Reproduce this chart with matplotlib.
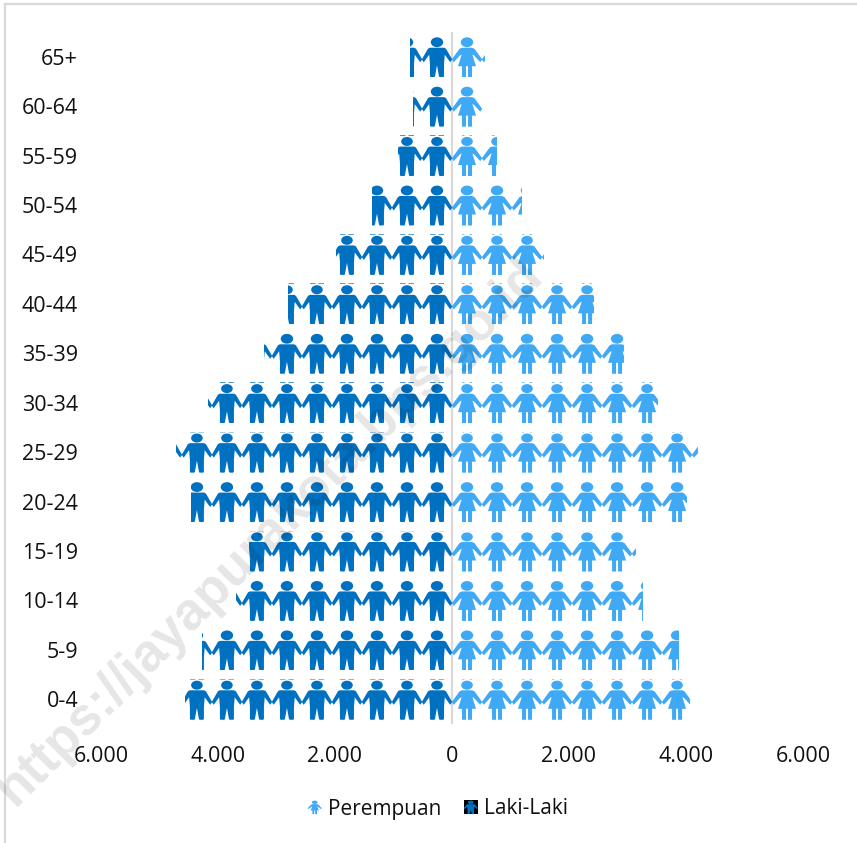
import numpy as np
import matplotlib
matplotlib.use("Agg")
import matplotlib.pyplot as plt
from matplotlib.path import Path
from matplotlib.patches import PathPatch, Rectangle, Patch
from matplotlib.lines import Line2D
from matplotlib.transforms import Affine2D
from matplotlib.legend_handler import HandlerBase

# ---------- data ----------
age_groups = ["0-4", "5-9", "10-14", "15-19", "20-24", "25-29", "30-34",
              "35-39", "40-44", "45-49", "50-54", "55-59", "60-64", "65+"]
laki_laki = [4564, 4274, 3692, 3470, 4462, 4718, 4171,
             3214, 2803, 1983, 1368, 923, 667, 718]
perempuan = [4068, 3880, 3265, 3145, 4017, 4205, 3521,
             2940, 2427, 1573, 1197, 769, 513, 564]
x_ticks = [-6000, -4000, -2000, 0, 2000, 4000, 6000]
x_tick_labels = ["6.000", "4.000", "2.000", "0", "2.000", "4.000", "6.000"]
units_per_icon = 513
# rows whose pictogram shows the small resampling dashes above the head
dashed_rows = ["0-4", "15-19", "25-29", "30-34", "40-44", "45-49", "55-59"]

COL_M = "#0070C0"
COL_F = "#3FA9F5"
FONT = "Open Sans"
W, H = 857, 843
TILE_W, TILE_H = 30.0, 41.0


# ---------- pictograms (designed on a 30 x 41 tile, y downwards) ----------
def head(cy=6.0, rx=6.2, ry=4.9):
    return Path.unit_circle().transformed(Affine2D().scale(rx, ry).translate(0, cy))


def poly(points):
    pts = list(points) + [points[0]]
    codes = [Path.MOVETO] + [Path.LINETO] * (len(points) - 1) + [Path.CLOSEPOLY]
    return Path(pts, codes)


def dash(x0, x1):
    return poly([(x0, 0.0), (x1, 0.0), (x1, 0.7), (x0, 0.7)])


def male_icon(dashes=False):
    right = [(0, 11.5), (7.2, 11.5), (9.0, 12.5), (15.2, 23.2), (13.2, 26), (7.8, 18.5),
             (7.0, 28), (7.0, 40), (6.4, 41), (2.6, 41), (2.0, 40), (0, 29)]
    left = [(-x, y) for x, y in right[1:-1][::-1]]
    parts = [poly(right + left)]
    if dashes:
        parts += [head(6.4, 5.8, 4.5), dash(-7, -1.5), dash(1.5, 7)]
    else:
        parts += [head()]
    return Path.make_compound_path(*parts)


def female_icon(dashes=False):
    right = [(0, 11.5), (5.0, 11.5), (7.4, 12.5), (15.2, 23.2), (13.2, 26), (6.8, 19), (5.4, 18.5),
             (9.0, 30), (5.0, 30), (5.0, 41), (1.0, 41), (1.0, 30), (0, 30)]
    left = [(-x, y) for x, y in right[1:-1][::-1]]
    parts = [poly(right + left)]
    if dashes:
        parts += [head(6.4, 5.8, 4.5), dash(-5, -2.5), dash(2.5, 5)]
    else:
        parts += [head()]
    return Path.make_compound_path(*parts)


# ---------- figure ----------
plt.rcParams["font.family"] = [FONT, "DejaVu Sans"]
fig = plt.figure(figsize=(W / 100, H / 100), dpi=100)
fig.patch.set_facecolor("white")
ax = fig.add_axes([101 / W, 1 - 724 / H, 702 / W, 692 / H])
ax.set_xlim(-6000, 6000)
ax.set_ylim(-0.5, len(age_groups) - 0.5)
for s in ax.spines.values():
    s.set_visible(False)
ax.axvline(0, color="#D9D9D9", lw=1.6, zorder=1)

row_px = 692 / 14
for i, label in enumerate(age_groups):
    has_dash = label in dashed_rows
    for values, sign, color, icon in ((laki_laki, -1, COL_M, male_icon(has_dash)),
                                      (perempuan, 1, COL_F, female_icon(has_dash))):
        v = values[i]
        left = -v if sign < 0 else 0
        bar = ax.barh(i, v, left=left, height=TILE_H / row_px, fill=False, lw=0)[0]
        for k in range(int(np.ceil(v / units_per_icon))):
            tr = (Affine2D()
                  .translate(0, -TILE_H / 2)
                  .scale(units_per_icon / TILE_W, -1 / row_px)
                  .translate(sign * (k + 0.5) * units_per_icon, i))
            p = PathPatch(icon.transformed(tr), facecolor=color, edgecolor="none",
                          lw=0, zorder=2)
            ax.add_patch(p)
            p.set_clip_path(bar)

ax.set_xticks(x_ticks, x_tick_labels)
ax.set_yticks(range(len(age_groups)), age_groups)
ax.tick_params(axis="both", length=0, labelsize=15.5, colors="#111111")
ax.tick_params(axis="x", pad=15.5)
ax.tick_params(axis="y", pad=16.5)


# ---------- legend ----------
class IconHandler(HandlerBase):
    def __init__(self, icon, color, boxed=False):
        super().__init__()
        self.icon, self.color, self.boxed = icon, color, boxed

    def create_artists(self, legend, orig, xd, yd, width, height, fontsize, trans):
        side = 10.0
        x0 = width - side
        y0 = (height - side) / 2 - yd
        arts = []
        if self.boxed:
            arts.append(Rectangle((x0, y0), side, side, fc="black", ec="none", transform=trans))
        t = (Affine2D().scale(side / TILE_W, -side / TILE_H)
             .translate(x0 + side / 2, y0 + side) + trans)
        arts.append(PathPatch(self.icon, fc=self.color, ec="none", lw=0, transform=t))
        return arts


h_f = Patch(color=COL_F, label="Perempuan")
h_m = Patch(color=COL_M, label="Laki-Laki")
fig.legend(handles=[h_f, h_m], loc="center", bbox_to_anchor=(437 / W, 1 - 809 / H),
           ncols=2, frameon=False, fontsize=15, labelcolor="#111111",
           handlelength=0.75, handletextpad=0.3, columnspacing=1.0, borderpad=0,
           handler_map={h_f: IconHandler(female_icon(), COL_F),
                        h_m: IconHandler(male_icon(), COL_M, boxed=True)})

# ---------- frame + watermark ----------
fig.add_artist(Line2D([5 / W, 5 / W], [0, 1 - 4 / H], color="#D9D9D9", lw=1.6))
fig.add_artist(Line2D([5 / W, 1], [1 - 4 / H, 1 - 4 / H], color="#D9D9D9", lw=1.6))
fig.text(270 / W, 1 - 532 / H, "https://jayapurakota.bps.go.id", rotation=45,
         rotation_mode="anchor", ha="center", va="center", fontsize=38, fontweight="bold",
         color="black", alpha=0.10, zorder=10, family="Liberation Sans")

fig.savefig("out.png", dpi=100)
